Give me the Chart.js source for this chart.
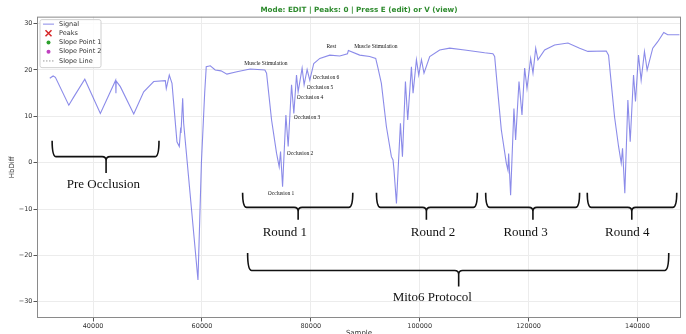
<!DOCTYPE html>
<html>
<head>
<meta charset="utf-8">
<script src="https://cdn.jsdelivr.net/npm/chart.js@4.4.1/dist/chart.umd.min.js"></script>
<style>
  html, body { margin: 0; padding: 0; background: #fff; }
</style>
</head>
<body>
<canvas id="chart1" width="686" height="334"></canvas>
<script>
// Data
const sample = [32050, 32660, 33080, 35540, 36460, 38480, 41340, 44150, 44200, 44250,
    45010, 47470, 49300, 51140, 53270, 53450, 54000, 54500, 55410, 55840,
    56100, 56150, 56460, 56640, 59270, 59900, 60500, 60790, 61530, 62440,
    63500, 64590, 66420, 68870, 71560, 71870, 72790, 73710, 74190, 74440,
    74810, 75420, 75840, 76460, 76880, 77370, 77670, 78400, 78770, 79320,
    79810, 80540, 81650, 83480, 85320, 86730, 86900, 88980, 90810, 91920,
    92340, 92960, 93880, 94800, 95100, 95280, 95730, 96460, 96830, 97380,
    97800, 98480, 98780, 99400, 99820, 100320, 100790, 101840, 103670, 105510,
    108260, 111930, 113450, 113770, 114370, 114990, 115910, 116210, 116340, 116700,
    117310, 117620, 118240, 118790, 119280, 119710, 120380, 120810, 121310, 121720,
    122950, 124780, 127230, 129380, 130900, 134270, 134690, 135190, 135790, 136530,
    137020, 137260, 137680, 138240, 138670, 139280, 139640, 140190, 140680, 141290,
    141780, 142810, 143730, 144830, 145560, 147710]
const hbdiff = [18.2, 18.7, 18.4, 12.4, 14.2, 18.0, 10.6, 17.8, 15.0, 17.6,
    16.4, 10.5, 15.3, 17.5, 17.7, 16.0, 18.9, 17.1, 4.5, 3.5,
    7.6, 6.4, 13.9, 8.5, -25.3, 0.0, 15.0, 20.7, 20.9, 20.0,
    19.8, 19.1, 19.6, 20.2, 20.0, 19.3, 9.2, 2.0, -0.9, 2.4,
    -5.2, 10.3, 3.5, 16.8, 10.6, 18.9, 15.3, 20.4, 16.8, 20.1,
    17.8, 21.4, 22.5, 23.2, 23.0, 23.5, 24.2, 23.2, 22.9, 22.5,
    20.4, 17.1, 7.8, 1.3, 0.6, -1.6, -8.8, 8.5, 1.3, 17.5,
    9.2, 20.7, 15.0, 22.2, 18.9, 22.2, 19.3, 22.9, 24.3, 24.7,
    24.3, 23.7, 23.5, 22.9, 15.0, 7.1, -0.1, -1.6, 2.0, -7.0,
    11.7, 4.9, 17.5, 10.3, 20.4, 16.0, 22.5, 19.3, 24.7, 22.2,
    24.3, 25.4, 25.8, 24.7, 24.0, 24.1, 23.2, 17.1, 9.9, 3.5,
    -0.1, 3.1, -6.6, 13.5, 4.5, 18.9, 13.2, 23.2, 17.8, 24.0,
    20.0, 24.7, 26.1, 28.1, 27.6, 27.6]

const x_ticks = [40000, 60000, 80000, 100000, 120000, 140000]
const y_ticks = [-30, -20, -10, 0, 10, 20, 30]

const legend_items = [
    {label: 'Signal', kind: 'line', color: 'rgba(100,100,225,0.75)'},
    {label: 'Peaks', kind: 'cross', color: '#d62728'},
    {label: 'Slope Point 1', kind: 'dot', color: '#2ca02c'},
    {label: 'Slope Point 2', kind: 'dot', color: '#c040c0'},
    {label: 'Slope Line', kind: 'dash', color: '#999'},
]

// braces: ends x1/x2, tip x, top / mid / bottom in data units
const braces = [
    {x1: 32480, x2: 52110, tip: 42390, top: 4.75, mid: 1.3, bottom: -2.2},
    {x1: 67470, x2: 87710, tip: 77670, top: -6.5, mid: -9.65, bottom: -12.3},
    {x1: 92060, x2: 110590, tip: 101230, top: -6.5, mid: -9.65, bottom: -12.3},
    {x1: 112120, x2: 129370, tip: 120800, top: -6.5, mid: -9.65, bottom: -12.3},
    {x1: 130780, x2: 147220, tip: 138960, top: -6.5, mid: -9.65, bottom: -12.3},
    {x1: 68390, x2: 145750, tip: 107160, top: -19.5, mid: -23.25, bottom: -26.7},
]
const big_labels = [
    {text: 'Pre Occlusion', x: 41900, y: -4.75},
    {text: 'Round 1', x: 75230, y: -15.0},
    {text: 'Round 2', x: 102450, y: -15.0},
    {text: 'Round 3', x: 119460, y: -15.0},
    {text: 'Round 4', x: 138120, y: -15.0},
    {text: 'Mito6 Protocol', x: 102300, y: -29.1},
]
const small_labels = [
    {text: 'Muscle Stimulation', x: 71750, y: 21.4, align: 'center'},
    {text: 'Rest', x: 83770, y: 25.0, align: 'center'},
    {text: 'Muscle Stimulation', x: 91930, y: 25.0, align: 'center'},
    {text: 'Occlusion 6', x: 80370, y: 18.3, align: 'left'},
    {text: 'Occlusion 5', x: 79270, y: 16.3, align: 'left'},
    {text: 'Occlusion 4', x: 77430, y: 14.0, align: 'left'},
    {text: 'Occlusion 3', x: 76880, y: 9.7, align: 'left'},
    {text: 'Occlusion 2', x: 75600, y: 2.0, align: 'left'},
    {text: 'Occlusion 1', x: 72110, y: -6.75, align: 'left'},
]

const SERIF = '"Liberation Serif", "Times New Roman", serif'
const SANS = '"DejaVu Sans", sans-serif'

// Helpers
const zip = (a, b) => a.map((k, i) => ({x: k, y: b[i]}))

function draw_brace(ctx, x1, x2, tip, top, mid, bottom) {
    const r = 4
    ctx.beginPath()
    ctx.moveTo(x1, top)
    ctx.quadraticCurveTo(x1, mid, x1 + r, mid)
    ctx.lineTo(tip - r, mid)
    ctx.quadraticCurveTo(tip, mid, tip, mid + r)
    ctx.lineTo(tip, bottom)
    ctx.moveTo(tip, mid + r)
    ctx.quadraticCurveTo(tip, mid, tip + r, mid)
    ctx.lineTo(x2 - r, mid)
    ctx.quadraticCurveTo(x2, mid, x2, top)
    ctx.stroke()
}

const annotations_plugin = {
    id: 'annotations',
    afterDatasetsDraw(chart) {
        const {ctx, scales: {x, y}} = chart
        ctx.save()
        ctx.strokeStyle = '#111'
        ctx.lineWidth = 1.6
        braces.forEach(b => draw_brace(ctx,
            x.getPixelForValue(b.x1), x.getPixelForValue(b.x2), x.getPixelForValue(b.tip),
            y.getPixelForValue(b.top), y.getPixelForValue(b.mid), y.getPixelForValue(b.bottom)))

        ctx.fillStyle = '#111'
        ctx.textBaseline = 'middle'
        ctx.textAlign = 'center'
        ctx.font = '13px ' + SERIF
        big_labels.forEach(l => ctx.fillText(l.text, x.getPixelForValue(l.x), y.getPixelForValue(l.y)))

        ctx.font = '5.5px ' + SERIF
        small_labels.forEach(l => {
            ctx.textAlign = l.align
            ctx.fillText(l.text, x.getPixelForValue(l.x), y.getPixelForValue(l.y))
        })
        ctx.restore()
    },
    afterDraw(chart) {
        const {ctx, chartArea: a} = chart
        ctx.save()
        // frame
        ctx.strokeStyle = '#8a8a8a'
        ctx.lineWidth = 1
        ctx.strokeRect(a.left + 0.5, a.top + 0.5, a.right - a.left - 1, a.bottom - a.top - 1)

        // legend box
        const bx = a.left + 3, by = a.top + 3, bw = 61, bh = 48
        ctx.fillStyle = 'rgba(255,255,255,0.85)'
        ctx.strokeStyle = '#d0d0d0'
        ctx.beginPath()
        ctx.roundRect(bx, by, bw, bh, 2)
        ctx.fill()
        ctx.stroke()

        ctx.font = '6.5px ' + SANS
        ctx.textBaseline = 'middle'
        ctx.textAlign = 'left'
        legend_items.forEach((it, i) => {
            const cy = by + 4.5 + i * 9.2
            const hx = bx + 3, hw = 11
            ctx.strokeStyle = it.color
            ctx.fillStyle = it.color
            ctx.lineWidth = 1
            ctx.setLineDash([])
            if (it.kind == 'line') {
                ctx.beginPath(); ctx.moveTo(hx, cy); ctx.lineTo(hx + hw, cy); ctx.stroke()
            } else if (it.kind == 'cross') {
                ctx.lineWidth = 1.5
                const c = hx + hw / 2, s = 3
                ctx.beginPath()
                ctx.moveTo(c - s, cy - s); ctx.lineTo(c + s, cy + s)
                ctx.moveTo(c + s, cy - s); ctx.lineTo(c - s, cy + s)
                ctx.stroke()
            } else if (it.kind == 'dot') {
                ctx.beginPath(); ctx.arc(hx + hw / 2, cy, 2, 0, Math.PI * 2); ctx.fill()
            } else {
                ctx.setLineDash([1.5, 1.5])
                ctx.beginPath(); ctx.moveTo(hx, cy); ctx.lineTo(hx + hw, cy); ctx.stroke()
                ctx.setLineDash([])
            }
            ctx.fillStyle = '#333'
            ctx.fillText(it.label, bx + 19, cy)
        })
        ctx.restore()
    }
}

const config = {
    type: 'line',
    data: {
        datasets: [{
            label: 'Signal',
            data: zip(sample, hbdiff),
            borderColor: 'rgba(100,100,225,0.75)',
            borderWidth: 1.1,
            pointRadius: 0,
            tension: 0,
            fill: false,
        }]
    },
    options: {
        responsive: false,
        animation: false,
        devicePixelRatio: 1,
        layout: {padding: {left: 0, right: 5, top: 0, bottom: 0}},
        plugins: {
            legend: {display: false},
            tooltip: {enabled: false},
            title: {
                display: true,
                fullSize: false,
                text: 'Mode: EDIT | Peaks: 0 | Press E (edit) or V (view)',
                color: '#2e8b2e',
                font: {family: SANS, size: 7.2, weight: 'bold'},
                padding: {top: 6, bottom: 2},
            },
        },
        scales: {
            x: {
                type: 'linear',
                min: 29700,
                max: 148000,
                afterBuildTicks: s => { s.ticks = x_ticks.map(v => ({value: v})) },
                afterFit: s => { s.height = 16 },
                ticks: {
                    callback: v => String(v),
                    color: '#333',
                    font: {family: SANS, size: 6.5},
                    padding: 1,
                    maxRotation: 0,
                },
                grid: {color: '#ececec', tickColor: '#555', tickLength: 3.5},
                border: {display: false},
                title: {display: true, text: 'Sample', color: '#333',
                    font: {family: SANS, size: 7}, padding: {top: 0, bottom: -3}},
            },
            y: {
                min: -33.5,
                max: 31.5,
                afterBuildTicks: s => { s.ticks = y_ticks.map(v => ({value: v})) },
                afterFit: s => { s.width = 37 },
                ticks: {
                    callback: v => v < 0 ? '\u2212' + Math.abs(v) : String(v),
                    color: '#333',
                    font: {family: SANS, size: 6.5},
                    padding: 1,
                },
                grid: {color: '#ececec', tickColor: '#555', tickLength: 3.5},
                border: {display: false},
                title: {display: true, text: 'HbDiff', color: '#333',
                    font: {family: SANS, size: 7}, padding: {top: 8, bottom: 0}},
            },
        },
    },
    plugins: [annotations_plugin],
}

const chart1 = new Chart(document.getElementById('chart1'), config)
</script>
</body>
</html>
